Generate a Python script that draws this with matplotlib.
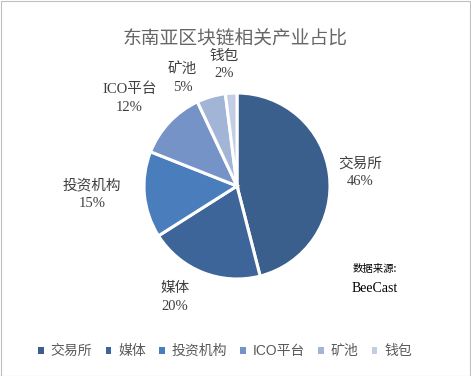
import matplotlib.pyplot as plt
import matplotlib.patches as mpatches
import numpy as np

plt.rcParams['font.family'] = ['Liberation Serif', 'Noto Sans CJK SC', 'DejaVu Sans']

categories = ['交易所', '媒体', '投资机构', 'ICO平台', '矿池', '钱包']
shares = [46, 20, 15, 12, 5, 2]
colors = ['#3a5f8c', '#3d659a', '#4a7dbb', '#7593c6', '#a3b5d7', '#c3cee5']
# label placement: distance from centre (in radii) and angle shift (deg)
label_dist = [1.33, 1.37, 1.56, 1.49, 1.30, 1.31]
label_shift = [-1, -7.5, -2, 4, 10.5, 2.5]

W, H = 471, 376
fig = plt.figure(figsize=(W / 100, H / 100), dpi=100)
fig.patch.set_facecolor('white')
fig.add_artist(mpatches.Rectangle((0.5 / W, 0.5 / H), 1 - 1.5 / W, 1 - 1.5 / H,
                                  transform=fig.transFigure, fill=False,
                                  edgecolor='#bfbfbf', linewidth=0.8))

cx, cy, r, half = 237, 186, 93, 150
ax = fig.add_axes([(cx - half) / W, (H - cy - half) / H, 2 * half / W, 2 * half / H])
wedges, _ = ax.pie(shares, colors=colors, startangle=90, counterclock=False,
                   wedgeprops=dict(edgecolor='white', linewidth=2.2))
lim = half / r
ax.set_xlim(-lim, lim)
ax.set_ylim(-lim, lim)
ax.set_aspect('equal')
ax.axis('off')

for w, name, v, d, s in zip(wedges, categories, shares, label_dist, label_shift):
    ang = np.deg2rad((w.theta1 + w.theta2) / 2 + s)
    ax.text(d * np.cos(ang), d * np.sin(ang), f'{name}\n{v}%', ha='center', va='center',
            fontsize=10.5, color='#404040', linespacing=1.45)

fig.text(0.5, 1 - 38 / H, '东南亚区块链相关产业占比', ha='center', va='center',
         fontsize=13.5, color='#666666', family=['Noto Sans CJK SC'], fontweight='light')

fig.text(375 / W, 1 - 269 / H, '数据来源:', ha='center', va='center', fontsize=7.5,
         color='#000000', family=['Noto Sans CJK SC'])
fig.text(375 / W, 1 - 288 / H, 'BeeCast', ha='center', va='center', fontsize=10,
         color='#000000')

handles = [mpatches.Patch(facecolor=c, edgecolor='none') for c in colors]
fig.legend(handles, categories, loc='center', bbox_to_anchor=(0.478, 1 - 351 / H), ncol=6,
           frameon=False, handlelength=0.4, handleheight=0.4,
           handletextpad=0.5, columnspacing=0.95, labelcolor='#595959',
           prop={'family': ['Liberation Sans', 'Noto Sans CJK SC'], 'size': 10})

fig.savefig('out.png', dpi=100)
